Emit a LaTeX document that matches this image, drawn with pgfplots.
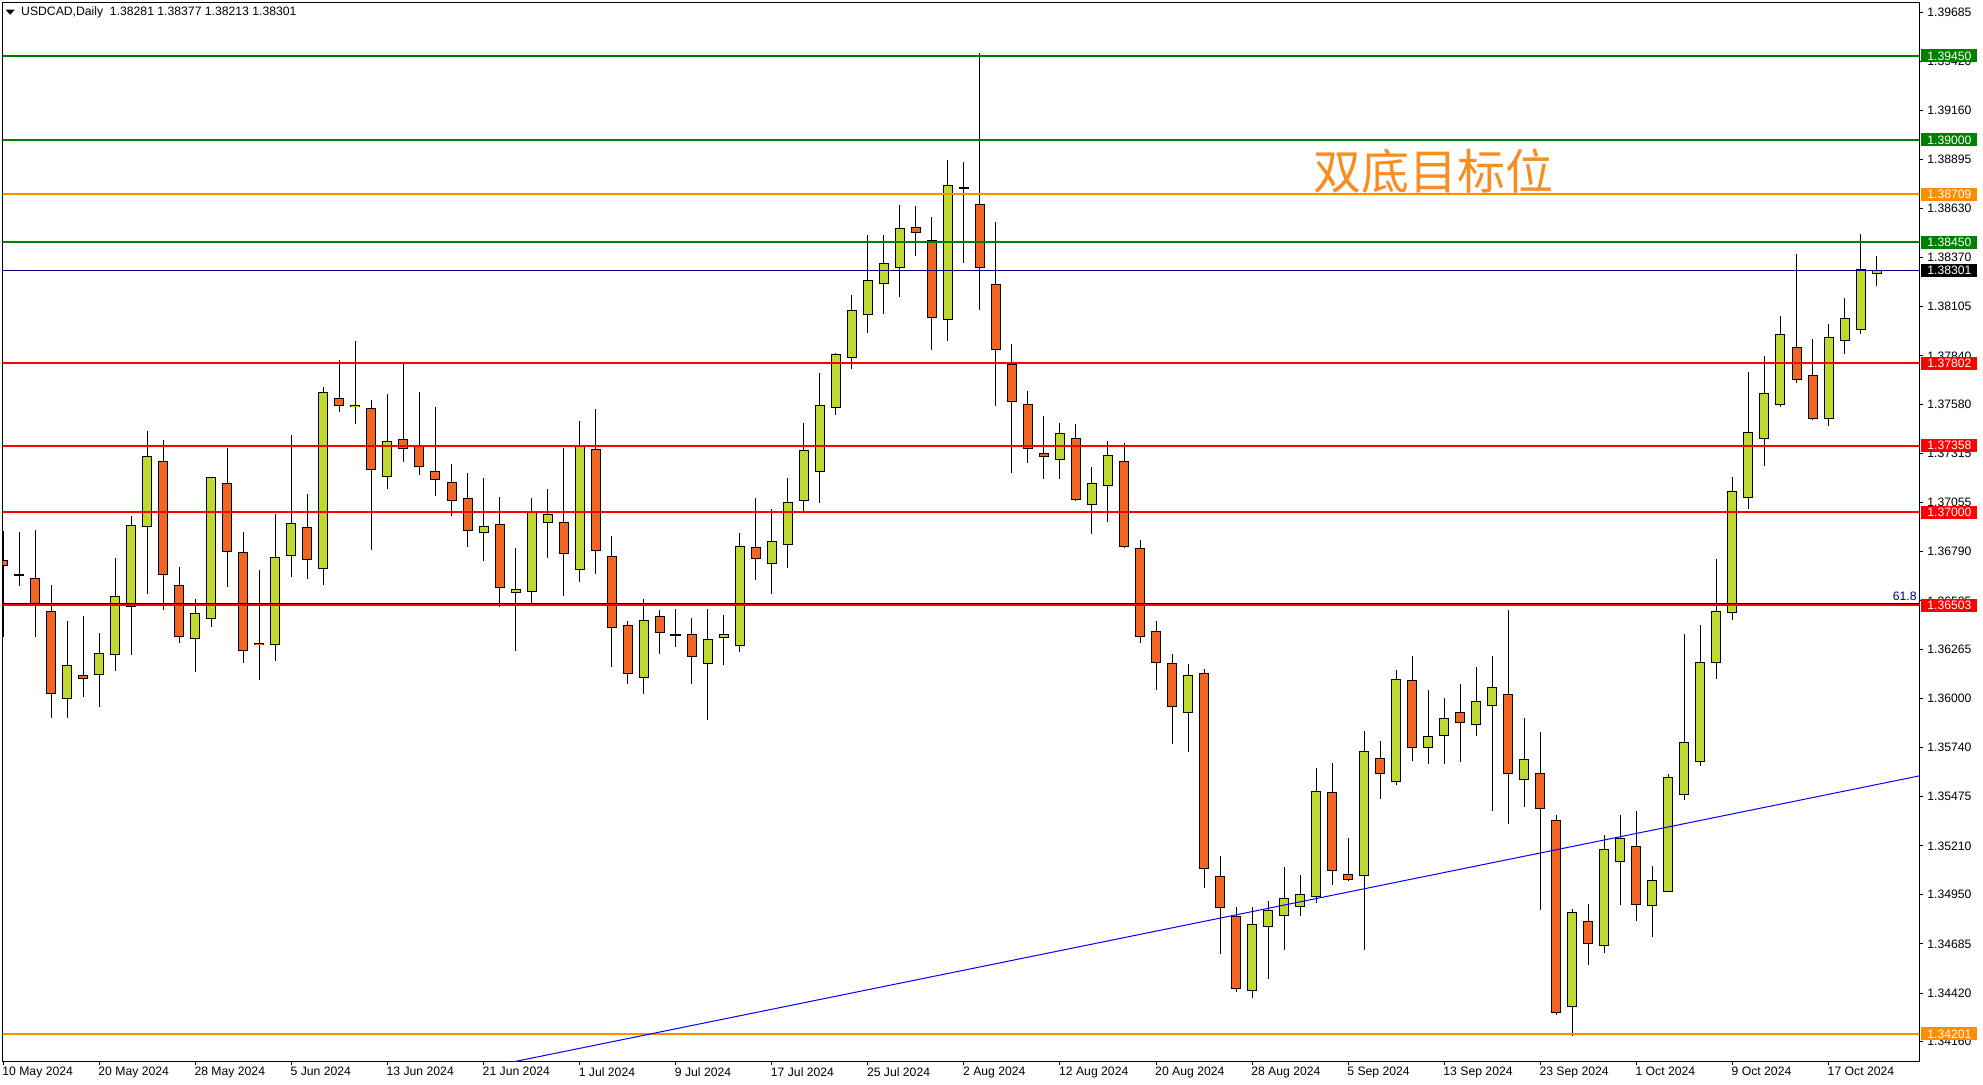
\documentclass[border=0pt]{standalone}
\usepackage{fontspec}
\setmainfont{Liberation Sans}
\newfontfamily\cjk{Noto Sans CJK SC}
\newfontfamily\dejavu{DejaVu Sans}
\usepackage{graphicx}
\usepackage{pgfplots}
\usepackage{pgfplotstable}
\pgfplotsset{compat=1.18}

\definecolor{mtgreen}{RGB}{0,128,0}
\definecolor{mtorange}{RGB}{255,140,0}
\definecolor{mtred}{RGB}{255,0,0}
\definecolor{mtnavy}{RGB}{0,0,128}
\definecolor{bullc}{RGB}{193,216,47}
\definecolor{bearc}{RGB}{242,101,34}
\definecolor{trendc}{RGB}{0,0,255}
\definecolor{zhorange}{RGB}{246,142,36}
\newcommand\mtfont{\fontsize{6.1}{7}\selectfont}

% daily candles, x = bar number from 10 May 2024
\pgfplotstableread{
x o h l c
4 1.35999 1.36418 1.35897 1.36181
6 1.36128 1.36353 1.35956 1.36246
7 1.36235 1.36756 1.36149 1.36552
8 1.36493 1.36981 1.36235 1.36933
9 1.36922 1.37437 1.36563 1.37303
12 1.36321 1.36536 1.36144 1.36461
13 1.36428 1.37190 1.36385 1.37190
17 1.36289 1.36992 1.36203 1.36761
18 1.36767 1.37416 1.36654 1.36944
20 1.36697 1.37674 1.36611 1.37647
22 1.37566 1.37920 1.37475 1.37577
24 1.37190 1.37636 1.37126 1.37384
30 1.36890 1.37185 1.36740 1.36928
32 1.36568 1.36809 1.36257 1.36589
33 1.36573 1.37078 1.36514 1.37003
34 1.36944 1.37126 1.36756 1.36992
36 1.36691 1.37491 1.36627 1.37362
40 1.36112 1.36536 1.36026 1.36423
44 1.36187 1.36482 1.35886 1.36321
45 1.36326 1.36450 1.36181 1.36348
46 1.36283 1.36890 1.36251 1.36820
48 1.36724 1.37019 1.36563 1.36847
49 1.36826 1.37185 1.36702 1.37056
50 1.37062 1.37480 1.37008 1.37335
51 1.37217 1.37749 1.37051 1.37577
52 1.37561 1.37856 1.37523 1.37851
53 1.37829 1.38167 1.37770 1.38087
54 1.38060 1.38489 1.37963 1.38248
55 1.38226 1.38489 1.38065 1.38339
56 1.38312 1.38650 1.38157 1.38527
59 1.38033 1.38892 1.37920 1.38758
66 1.37282 1.37480 1.37180 1.37427
68 1.37040 1.37244 1.36885 1.37158
69 1.37142 1.37384 1.36949 1.37309
74 1.35924 1.36187 1.35715 1.36128
78 1.34432 1.34883 1.34394 1.34791
79 1.34775 1.34915 1.34496 1.34867
80 1.34834 1.35097 1.34652 1.34931
81 1.34883 1.35054 1.34834 1.34952
82 1.34936 1.35629 1.34904 1.35505
85 1.35049 1.35827 1.34652 1.35720
87 1.35554 1.36155 1.35537 1.36106
89 1.35736 1.36047 1.35650 1.35800
90 1.35800 1.36004 1.35650 1.35897
92 1.35859 1.36171 1.35800 1.35988
93 1.35961 1.36230 1.35398 1.36063
95 1.35564 1.35897 1.35419 1.35677
98 1.34346 1.34872 1.34190 1.34856
100 1.34673 1.35269 1.34636 1.35194
101 1.35124 1.35376 1.34893 1.35253
103 1.34888 1.35103 1.34722 1.35028
104 1.34963 1.35596 1.34963 1.35580
105 1.35484 1.36348 1.35457 1.35768
106 1.35661 1.36396 1.35639 1.36198
107 1.36192 1.36750 1.36106 1.36471
108 1.36461 1.37190 1.36423 1.37115
109 1.37078 1.37754 1.37019 1.37432
110 1.37394 1.37840 1.37250 1.37641
111 1.37577 1.38055 1.37566 1.37958
114 1.37502 1.38012 1.37464 1.37942
115 1.37920 1.38151 1.37851 1.38044
116 1.37979 1.38495 1.37958 1.38307
117 1.38281 1.38377 1.38213 1.38301
}\bull

\pgfplotstableread{
x o h l c
0 1.36745 1.36901 1.36332 1.36713
2 1.36648 1.36906 1.36332 1.36498
3 1.36471 1.36611 1.35897 1.36026
5 1.36128 1.36444 1.36010 1.36106
10 1.37276 1.37389 1.36477 1.36665
11 1.36611 1.36707 1.36300 1.36332
14 1.37158 1.37346 1.36600 1.36788
15 1.36788 1.36895 1.36192 1.36257
16 1.36300 1.36691 1.36101 1.36289
19 1.36922 1.37099 1.36643 1.36745
21 1.37614 1.37818 1.37539 1.37572
23 1.37561 1.37604 1.36799 1.37228
25 1.37394 1.37797 1.37271 1.37341
26 1.37362 1.37647 1.37201 1.37244
27 1.37223 1.37566 1.37089 1.37174
28 1.37164 1.37260 1.36981 1.37062
29 1.37078 1.37212 1.36815 1.36901
31 1.36938 1.37083 1.36493 1.36595
35 1.36949 1.37346 1.36552 1.36777
37 1.37341 1.37555 1.36670 1.36793
38 1.36767 1.36874 1.36171 1.36380
39 1.36396 1.36418 1.36080 1.36133
41 1.36444 1.36477 1.36241 1.36353
43 1.36348 1.36434 1.36080 1.36224
47 1.36815 1.37078 1.36638 1.36750
57 1.38532 1.38645 1.38377 1.38500
58 1.38462 1.38586 1.37872 1.38044
61 1.38656 1.39466 1.38087 1.38312
62 1.38226 1.38559 1.37572 1.37872
63 1.37797 1.37904 1.37212 1.37593
64 1.37582 1.37652 1.37266 1.37341
65 1.37319 1.37518 1.37180 1.37298
67 1.37400 1.37475 1.37062 1.37067
70 1.37276 1.37373 1.36809 1.36815
71 1.36809 1.36852 1.36300 1.36332
72 1.36364 1.36418 1.36047 1.36192
73 1.36192 1.36241 1.35758 1.35956
75 1.36139 1.36160 1.34985 1.35087
76 1.35049 1.35156 1.34630 1.34877
77 1.34834 1.34883 1.34426 1.34443
83 1.35500 1.35656 1.35001 1.35076
84 1.35060 1.35253 1.35022 1.35028
86 1.35682 1.35774 1.35462 1.35596
88 1.36101 1.36230 1.35666 1.35736
91 1.35929 1.36080 1.35661 1.35870
94 1.36026 1.36477 1.35328 1.35596
96 1.35602 1.35822 1.34867 1.35409
97 1.35350 1.35376 1.34303 1.34314
99 1.34808 1.34899 1.34571 1.34684
102 1.35210 1.35398 1.34808 1.34893
112 1.37888 1.38387 1.37695 1.37711
113 1.37738 1.37931 1.37496 1.37502
}\bear

\pgfplotstableread{
x o h l c
1 1.36665 1.36895 1.36605 1.36665
42 1.36343 1.36482 1.36278 1.36343
60 1.38742 1.38881 1.38339 1.38742
}\doji

\begin{document}
\begin{tikzpicture}
\path[use as bounding box] (-1.35pt,-11.5pt) rectangle (990.15pt,530.5pt);
\begin{axis}[
  scale only axis, width=958.3pt, height=529.25pt,
  xmin=-0.03, xmax=119.67, ymin=1.34056, ymax=1.39737,
  axis line style={black, line width=0.5pt},
  xtick={0,6,...,114},
  xticklabels={10 May 2024,20 May 2024,28 May 2024,5 Jun 2024,13 Jun 2024,21 Jun 2024,1 Jul 2024,9 Jul 2024,17 Jul 2024,25 Jul 2024,2 Aug 2024,12 Aug 2024,20 Aug 2024,28 Aug 2024,5 Sep 2024,13 Sep 2024,23 Sep 2024,1 Oct 2024,9 Oct 2024,17 Oct 2024},
  ytick={1.39685,1.39420,1.39160,1.38895,1.38630,1.38370,1.38105,1.37840,1.37580,1.37315,1.37055,1.36790,1.36525,1.36265,1.36000,1.35740,1.35475,1.35210,1.34950,1.34685,1.34420,1.34160},
  yticklabels={1.39685,1.39420,1.39160,1.38895,1.38630,1.38370,1.38105,1.37840,1.37580,1.37315,1.37055,1.36790,1.36525,1.36265,1.36000,1.35740,1.35475,1.35210,1.34950,1.34685,1.34420,1.34160},
  xtick pos=left, ytick pos=right, yticklabel pos=right,
  tick align=outside, major tick length=2pt,
  tick style={black, line width=0.5pt},
  tick label style={font=\mtfont, text=black},
  xticklabel style={anchor=north west, inner sep=0pt, xshift=-0.6pt, yshift=-0.9pt},
  yticklabel style={anchor=west, inner sep=0pt, xshift=1.85pt},
]
% wicks
\addplot[black, line width=0.5pt, quiver={u=0, v=\thisrow{h}-\thisrow{l}}] table[x=x, y=l] {\bull};
\addplot[black, line width=0.5pt, quiver={u=0, v=\thisrow{h}-\thisrow{l}}] table[x=x, y=l] {\bear};
\addplot[black, line width=0.5pt, quiver={u=0, v=\thisrow{h}-\thisrow{l}}] table[x=x, y=l] {\doji};
% bodies: black outline, then coloured fill
\addplot[black, line width=5pt, quiver={u=0, v=\thisrow{c}-\thisrow{o}}] table[x=x, y=o] {\bull};
\addplot[bullc, line width=4pt, quiver={u=0, v=\thisrow{c}-\thisrow{o}, every arrow/.append style={shorten <=0.5pt, shorten >=0.5pt}}] table[x=x, y=o] {\bull};
\addplot[black, line width=5pt, quiver={u=0, v=\thisrow{c}-\thisrow{o}}] table[x=x, y=o] {\bear};
\addplot[bearc, line width=4pt, quiver={u=0, v=\thisrow{c}-\thisrow{o}, every arrow/.append style={shorten <=0.5pt, shorten >=0.5pt}}] table[x=x, y=o] {\bear};
\addplot[black, line width=0.75pt, quiver={u=0.66, v=0}] table[x expr=\thisrow{x}-0.33, y=o] {\doji};

% levels
\addplot[mtgreen, line width=1pt] coordinates {(-1,1.39450) (121,1.39450)};
\addplot[mtgreen, line width=1pt] coordinates {(-1,1.39000) (121,1.39000)};
\addplot[mtorange, line width=1pt] coordinates {(-1,1.38709) (121,1.38709)};
\addplot[mtgreen, line width=1pt] coordinates {(-1,1.38450) (121,1.38450)};
\addplot[mtnavy, line width=0.5pt] coordinates {(-1,1.38301) (121,1.38301)};
\addplot[mtred, line width=1pt] coordinates {(-1,1.37802) (121,1.37802)};
\addplot[mtred, line width=1pt] coordinates {(-1,1.37358) (121,1.37358)};
\addplot[mtred, line width=1pt] coordinates {(-1,1.37000) (121,1.37000)};
\addplot[mtred, line width=1pt] coordinates {(-1,1.36503) (121,1.36503)};
\addplot[mtnavy, line width=0.5pt] coordinates {(-1,1.36514) (121,1.36514)};
\addplot[mtorange, line width=1pt] coordinates {(-1,1.34201) (121,1.34201)};
% trend line
\addplot[trendc, line width=0.5pt] coordinates {(30,1.34019) (120,1.35592)};

\node[inner sep=0pt] at (axis cs:0.45,1.39681) {\dejavu\fontsize{6.1}{7}\selectfont\scalebox{1}[0.55]{▼}};
\node[font=\mtfont, anchor=west, inner sep=0pt] at (axis cs:1.1,1.39683) {USDCAD,Daily\ \ 1.38281 1.38377 1.38213 1.38301};
\node[text=zhorange, font=\cjk\fontsize{24}{28}\selectfont, inner sep=0pt] at (axis cs:89.3,1.38834) {双底目标位};
\node[text=mtnavy, font=\mtfont, anchor=base east, inner sep=0pt] at (axis cs:119.53,1.36525) {61.8};

\coordinate (L1) at (axis cs:119.67,1.39450);
\coordinate (L2) at (axis cs:119.67,1.39000);
\coordinate (L3) at (axis cs:119.67,1.38709);
\coordinate (L4) at (axis cs:119.67,1.38450);
\coordinate (L5) at (axis cs:119.67,1.38301);
\coordinate (L6) at (axis cs:119.67,1.37802);
\coordinate (L7) at (axis cs:119.67,1.37358);
\coordinate (L8) at (axis cs:119.67,1.37000);
\coordinate (L9) at (axis cs:119.67,1.36503);
\coordinate (L10) at (axis cs:119.67,1.34201);
\end{axis}
\tikzset{pbox/.style={anchor=west, xshift=0.85pt, text width=22pt, align=left, inner xsep=3pt, inner ysep=0pt, minimum height=6.5pt, text=white, font=\mtfont}}
\node[pbox, fill=mtgreen] at (L1) {1.39450};
\node[pbox, fill=mtgreen] at (L2) {1.39000};
\node[pbox, fill=mtorange] at (L3) {1.38709};
\node[pbox, fill=mtgreen] at (L4) {1.38450};
\node[pbox, fill=black] at (L5) {1.38301};
\node[pbox, fill=mtred] at (L6) {1.37802};
\node[pbox, fill=mtred] at (L7) {1.37358};
\node[pbox, fill=mtred] at (L8) {1.37000};
\node[pbox, fill=mtred] at (L9) {1.36503};
\node[pbox, fill=mtorange] at (L10) {1.34201};
\end{tikzpicture}
\end{document}
